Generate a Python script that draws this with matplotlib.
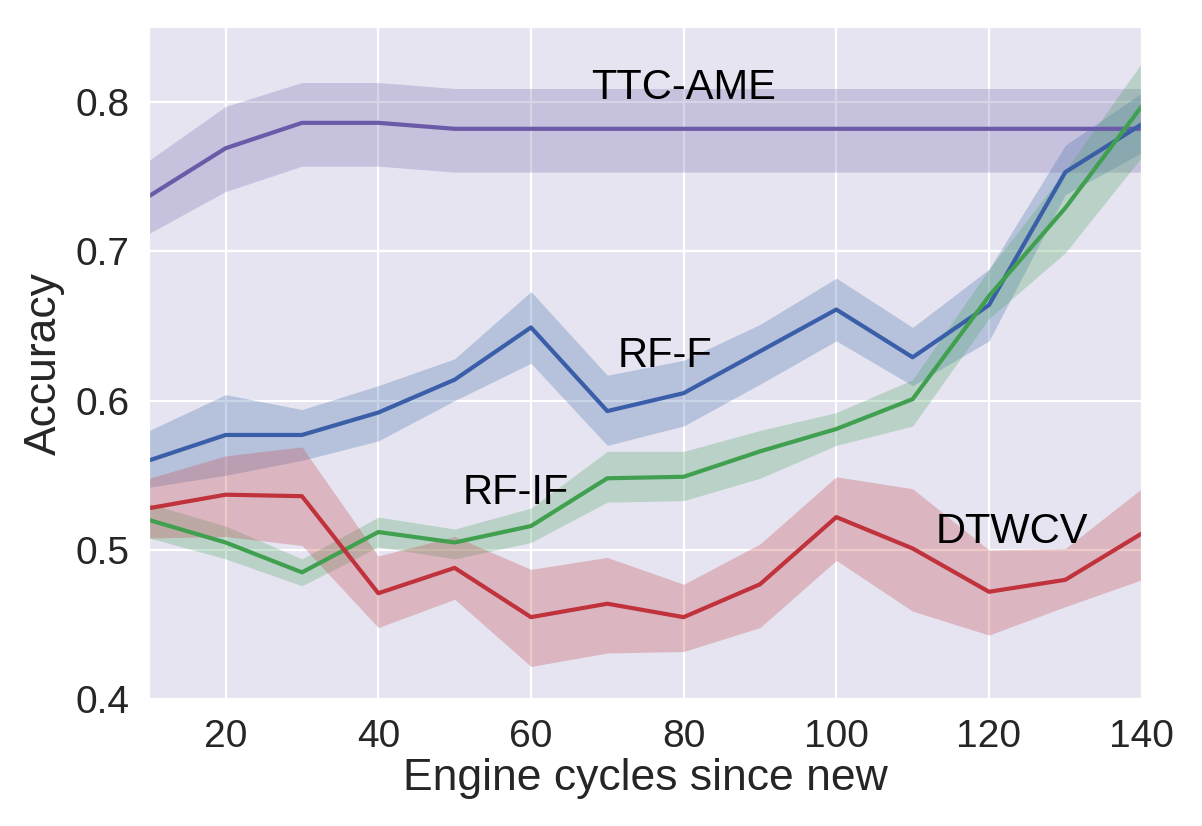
import matplotlib
matplotlib.use("Agg")
import matplotlib.pyplot as plt
import seaborn as sns

cycles = [10, 20, 30, 40, 50, 60, 70, 80, 90, 100, 110, 120, 130, 140]

ttc_mean = [0.737, 0.769, 0.786, 0.786, 0.782, 0.782, 0.782, 0.782, 0.782, 0.782, 0.782, 0.782, 0.782, 0.782]
ttc_low = [0.712, 0.740, 0.757, 0.757, 0.753, 0.753, 0.753, 0.753, 0.753, 0.753, 0.753, 0.753, 0.753, 0.753]
ttc_high = [0.761, 0.797, 0.813, 0.813, 0.809, 0.809, 0.809, 0.809, 0.809, 0.809, 0.809, 0.809, 0.809, 0.809]

rff_mean = [0.560, 0.577, 0.577, 0.592, 0.614, 0.649, 0.593, 0.605, 0.633, 0.661, 0.629, 0.664, 0.753, 0.785]
rff_low = [0.542, 0.550, 0.560, 0.573, 0.600, 0.625, 0.570, 0.583, 0.611, 0.640, 0.610, 0.640, 0.738, 0.766]
rff_high = [0.580, 0.604, 0.594, 0.610, 0.628, 0.673, 0.617, 0.627, 0.651, 0.682, 0.649, 0.688, 0.771, 0.806]

rfif_mean = [0.520, 0.505, 0.485, 0.512, 0.505, 0.516, 0.548, 0.549, 0.566, 0.581, 0.601, 0.670, 0.729, 0.797]
rfif_low = [0.508, 0.494, 0.476, 0.502, 0.494, 0.505, 0.532, 0.533, 0.548, 0.570, 0.583, 0.655, 0.699, 0.763]
rfif_high = [0.531, 0.516, 0.494, 0.522, 0.514, 0.528, 0.566, 0.566, 0.580, 0.592, 0.614, 0.688, 0.754, 0.826]

dtw_mean = [0.528, 0.537, 0.536, 0.471, 0.488, 0.455, 0.464, 0.455, 0.477, 0.522, 0.501, 0.472, 0.480, 0.511]
dtw_low = [0.508, 0.509, 0.503, 0.448, 0.467, 0.422, 0.431, 0.432, 0.448, 0.493, 0.459, 0.443, 0.462, 0.480]
dtw_high = [0.548, 0.563, 0.569, 0.496, 0.509, 0.487, 0.495, 0.477, 0.504, 0.549, 0.541, 0.500, 0.501, 0.541]

sns.set_style("darkgrid", {"axes.facecolor": "#E5E4F0"})
plt.rcParams['font.family'] = ['Liberation Sans', 'DejaVu Sans']

fig = plt.figure(figsize=(6.01, 4.13), dpi=200)
ax = fig.add_axes([0.1242, 0.1534, 0.8256, 0.8136])

series = [
    (ttc_mean, ttc_low, ttc_high, '#8172B2', '#6a5aa8'),
    (rff_mean, rff_low, rff_high, '#4C72B0', '#3a5fa8'),
    (rfif_mean, rfif_low, rfif_high, '#55A868', '#40a050'),
    (dtw_mean, dtw_low, dtw_high, '#C44E52', '#c0323c'),
]
for mean, low, high, fill_c, line_c in series:
    ax.fill_between(cycles, low, high, color=fill_c, alpha=0.3, lw=0)
    ax.plot(cycles, mean, color=line_c, lw=1.5)

ax.text(80, 0.809, 'TTC-AME', fontsize=15, ha='center', va='center', color='black')
ax.text(77.5, 0.630, 'RF-F', fontsize=15, ha='center', va='center', color='black')
ax.text(58, 0.538, 'RF-IF', fontsize=15, ha='center', va='center', color='black')
ax.text(123, 0.512, 'DTWCV', fontsize=15, ha='center', va='center', color='black')

ax.set_xlim(10, 140)
ax.set_ylim(0.4, 0.85)
ax.set_xticks([20, 40, 60, 80, 100, 120, 140])
ax.set_yticks([0.4, 0.5, 0.6, 0.7, 0.8])
ax.tick_params(labelsize=14, colors='#262626')
ax.set_xlabel('Engine cycles since new', fontsize=16, color='#262626', labelpad=1)
ax.set_ylabel('Accuracy', fontsize=16, color='#262626')

plt.savefig('out.png', dpi=200)
